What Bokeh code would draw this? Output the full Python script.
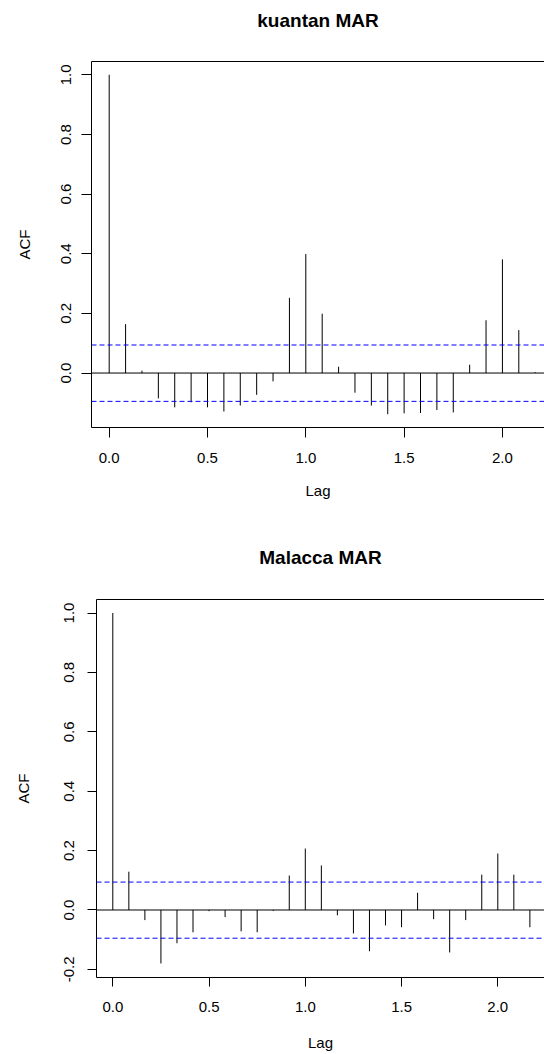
from bokeh.plotting import figure
from bokeh.layouts import column
from bokeh.models import (FixedTicker, PrintfTickFormatter, LinearAxis, Span,
                          ColumnDataSource, Range1d)
from bokeh.embed import file_html
from bokeh.resources import INLINE

# ---- data -------------------------------------------------------------
lags = [k / 12 for k in range(27)]

kuantan_title = "kuantan MAR"
kuantan_acf = [1.0, 0.164, 0.008, -0.085, -0.115, -0.098, -0.115, -0.129,
               -0.109, -0.073, -0.028, 0.252, 0.399, 0.199, 0.021, -0.066,
               -0.109, -0.138, -0.135, -0.134, -0.124, -0.132, 0.028, 0.177,
               0.381, 0.144, 0.003]
kuantan_ci = [0.094, -0.095]

malacca_title = "Malacca MAR"
malacca_acf = [1.0, 0.129, -0.034, -0.180, -0.112, -0.075, -0.004, -0.024,
               -0.072, -0.075, -0.003, 0.116, 0.207, 0.150, -0.018, -0.079,
               -0.139, -0.052, -0.058, 0.058, -0.031, -0.143, -0.034, 0.119,
               0.190, 0.119, -0.058]
malacca_ci = [0.094, -0.095]

x_ticks = [0.0, 0.5, 1.0, 1.5, 2.0]
y_ticks = [-0.2, 0.0, 0.2, 0.4, 0.6, 0.8, 1.0]
x_label = "Lag"
y_label = "ACF"

FONT = "Liberation Sans"


def acf_panel(title, acf, ci, height, border_top, border_bottom, border_left,
              xr, yr, title_standoff, ylab_standoff, ytick_standoff, ytick_out,
              xtick_standoff, xlab_standoff, xtick_out):
    p = figure(width=544, height=height, output_backend="svg",
               toolbar_location=None, x_range=Range1d(*xr), y_range=Range1d(*yr),
               min_border_top=border_top, min_border_bottom=border_bottom,
               min_border_left=border_left, min_border_right=0,
               x_axis_location=None, y_axis_location=None,
               background_fill_color="white", border_fill_color="white")
    p.outline_line_color = None
    p.grid.visible = False

    # bottom axis
    xa = LinearAxis(ticker=FixedTicker(ticks=x_ticks),
                    formatter=PrintfTickFormatter(format="%.1f"),
                    axis_label=x_label)
    xa.major_tick_out = xtick_out
    xa.major_tick_in = 0
    xa.minor_tick_out = 0
    xa.major_label_standoff = xtick_standoff
    xa.axis_label_standoff = xlab_standoff
    xa.major_label_text_font = FONT
    xa.major_label_text_font_size = "15px"
    xa.major_label_text_color = "black"
    xa.axis_label_text_font = FONT
    xa.axis_label_text_font_size = "15px"
    xa.axis_label_text_font_style = "normal"
    xa.axis_label_text_color = "black"
    xa.axis_line_color = "black"
    xa.major_tick_line_color = "black"
    p.add_layout(xa, "below")

    # left axis
    ya = LinearAxis(ticker=FixedTicker(ticks=y_ticks),
                    formatter=PrintfTickFormatter(format="%.1f"),
                    axis_label=y_label)
    ya.major_tick_out = ytick_out
    ya.major_tick_in = 0
    ya.minor_tick_out = 0
    ya.major_label_standoff = ytick_standoff
    ya.axis_label_standoff = ylab_standoff
    ya.major_label_orientation = "parallel"
    ya.major_label_text_font = FONT
    ya.major_label_text_font_size = "15px"
    ya.major_label_text_color = "black"
    ya.axis_label_text_font = FONT
    ya.axis_label_text_font_size = "15px"
    ya.axis_label_text_font_style = "normal"
    ya.axis_label_text_color = "black"
    ya.axis_line_color = "black"
    ya.major_tick_line_color = "black"
    p.add_layout(ya, "left")

    # top edge of the box, carrying the panel title
    ta = LinearAxis(ticker=FixedTicker(ticks=[]), axis_label=title)
    ta.major_tick_out = 0
    ta.major_tick_in = 0
    ta.minor_tick_out = 0
    ta.minor_tick_in = 0
    ta.major_label_standoff = 0
    ta.major_label_text_font_size = "0px"
    ta.axis_label_standoff = title_standoff
    ta.axis_label_text_font = FONT
    ta.axis_label_text_font_size = "19px"
    ta.axis_label_text_font_style = "bold"
    ta.axis_label_text_color = "black"
    ta.axis_line_color = "black"
    p.add_layout(ta, "above")

    # reference lines
    p.add_layout(Span(location=0, dimension="width", line_color="black",
                      line_width=1))
    for c in ci:
        p.add_layout(Span(location=c, dimension="width", line_color="blue",
                          line_width=1, line_dash="5 3"))

    src = ColumnDataSource(dict(lag=lags, acf=acf, zero=[0.0] * len(lags)))
    p.segment(x0="lag", y0="zero", x1="lag", y1="acf", source=src,
              line_color="black", line_width=1)
    return p


p1 = acf_panel(kuantan_title, kuantan_acf, kuantan_ci, height=527,
               border_top=61, border_bottom=100, border_left=91,
               xr=(-0.090, 2.214), yr=(-0.1826, 1.0446),
               title_standoff=31, ylab_standoff=26,
               ytick_standoff=10, ytick_out=10,
               xtick_standoff=15, xlab_standoff=16, xtick_out=10)
p2 = acf_panel(malacca_title, malacca_acf, malacca_ci, height=527,
               border_top=72, border_bottom=77, border_left=96,
               xr=(-0.0847, 2.2426), yr=(-0.2273, 1.0455),
               title_standoff=32, ylab_standoff=30,
               ytick_standoff=13, ytick_out=9,
               xtick_standoff=15, xlab_standoff=19, xtick_out=9)

layout = column(column(p1), column(p2), spacing=0)
open("out.html", "w").write(file_html(layout, INLINE))
